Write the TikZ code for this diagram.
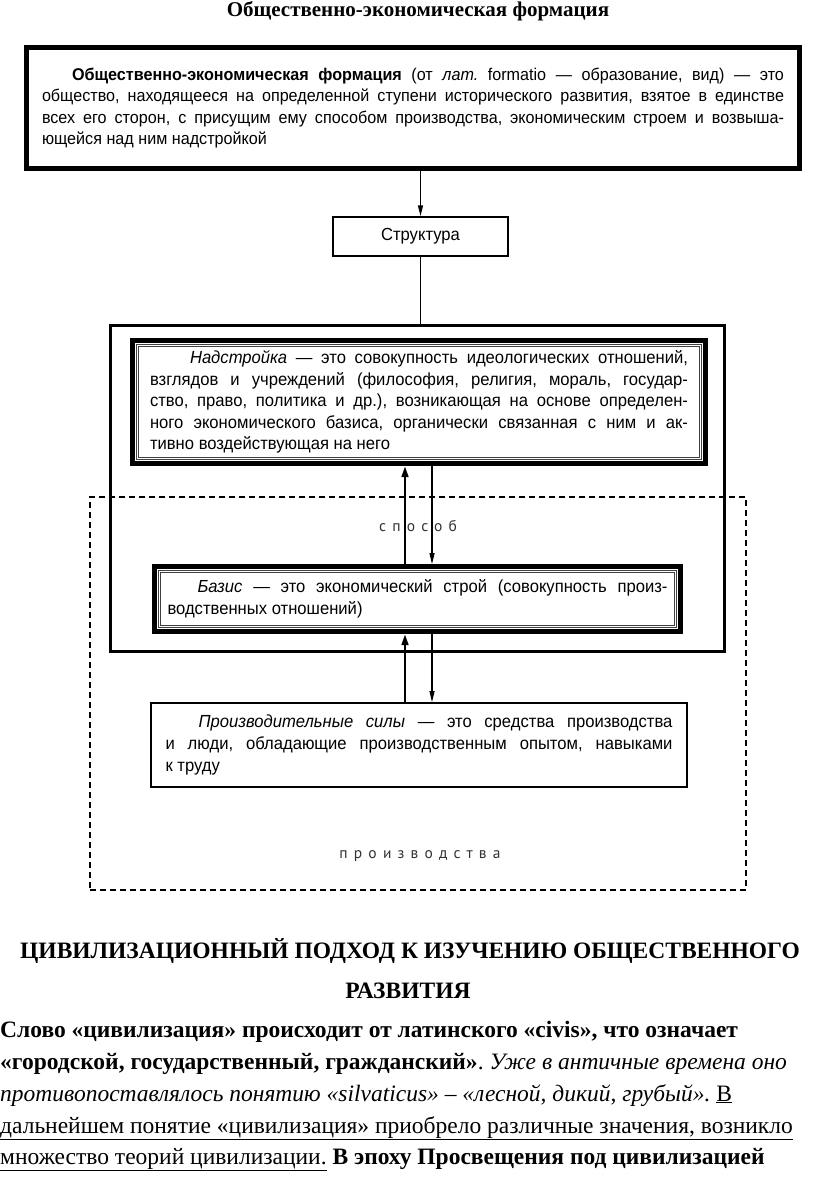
\documentclass[tikz,border=0pt]{standalone}
\usepackage{fontspec}
\setmainfont{Liberation Serif}
\newfontfamily\df[FakeStretch=0.95]{Liberation Sans}
\newfontfamily\dfsp[LetterSpace=40]{PT Sans}
\usetikzlibrary{arrows.meta}
\frenchspacing
\begin{document}
\begin{tikzpicture}[x=1pt,y=-1pt,
  dtext/.style={font=\df\fontsize{17.5}{21.6}\selectfont},
  ttext/.style={font=\df\fontsize{17}{21.2}\selectfont},
  dblframe/.style={draw=black!75, line width=0.5pt, double, double distance=1.4pt},
  heavybox/.style={draw, line width=5pt, fill=white, inner sep=0pt, align=left, dtext},
  thinarrow/.style={line width=1.2pt, -{Triangle[length=11pt,width=5pt]}},
  thickarrow/.style={line width=2.6pt, -{Triangle[length=11pt,width=6.5pt]}},
  spaced/.style={font=\dfsp\fontsize{15.5}{18}\selectfont, text=black!80},
  body/.style={anchor=base west, inner sep=0pt, font=\fontsize{23.5}{27}\selectfont}
]
\fill[white] (0,0) rectangle (816,1189);
\useasboundingbox (0,0) rectangle (816,1189);

% title
\node[font=\bfseries\fontsize{21}{24}\selectfont] (title) at (418,11) {Общественно-экономическая формация};

% top box
\node[heavybox, ttext, minimum width=773pt, minimum height=121pt] (top) at (413,108) {%
\makebox[742pt][s]{\hspace*{30pt}\textbf{Общественно-экономическая формация} (от \textit{лат.} formatio — образование, вид) — это}\\
\makebox[742pt][s]{общество, находящееся на определенной ступени исторического развития, взятое в единстве}\\
\makebox[742pt][s]{всех его сторон, с присущим ему способом производства, экономическим строем и возвыша-}\\
ющейся над ним надстройкой};
\draw[dblframe] ([shift={(8pt,-8pt)}]top.north west) rectangle ([shift={(-8pt,8pt)}]top.south east);

% structure
\node[draw, line width=1.5pt, minimum width=175pt, minimum height=39pt, dtext] (str) at (420.5,236.5) {Структура};

% dashed production box
\node[draw, line width=1.8pt, dash pattern=on 6pt off 4pt, minimum width=656pt, minimum height=393pt] (dash) at (418,693.5) {};

% big structure box
\node[draw, line width=3pt, minimum width=614pt, minimum height=326pt] (big) at (417,488) {};

% superstructure
\node[heavybox, minimum width=573pt, minimum height=123pt] (nad) at (419,402) {%
\makebox[538pt][s]{\hspace*{40pt}\textit{Надстройка} — это совокупность идеологических отношений,}\\
\makebox[538pt][s]{взглядов и учреждений (философия, религия, мораль, государ-}\\
\makebox[538pt][s]{ство, право, политика и др.), возникающая на основе определен-}\\
\makebox[538pt][s]{ного экономического базиса, органически связанная с ним и ак-}\\
тивно воздействующая на него};
\draw[dblframe] ([shift={(7.5pt,-7.5pt)}]nad.north west) rectangle ([shift={(-7.5pt,7.5pt)}]nad.south east);

% basis
\node[heavybox, minimum width=526pt, minimum height=65pt] (baz) at (417.5,599) {%
\makebox[500pt][s]{\hspace*{30pt}\textit{Базис} — это экономический строй (совокупность произ-}\\
водственных отношений)};
\draw[dblframe] ([shift={(7.5pt,-7.5pt)}]baz.north west) rectangle ([shift={(-7.5pt,7.5pt)}]baz.south east);

% productive forces
\node[draw, line width=2pt, fill=white, inner sep=0pt, align=left, dtext, minimum width=536pt, minimum height=84pt] (prod) at (419,745) {%
\makebox[507pt][s]{\hspace*{33pt}\textit{Производительные силы} — это средства производства}\\
\makebox[507pt][s]{и люди, обладающие производственным опытом, навыками}\\
к труду};

% spaced labels
\node[spaced] (sp) at (418,526) {способ};
\node[spaced] (pr) at (420,856) {производства};

% connectors
\coordinate (xa) at (405,0);
\coordinate (xb) at (432,0);
\draw[thinarrow, line width=1.5pt] (top.south -| str.north) -- (str.north);
\draw[line width=1.5pt] (str.south) -- (str.south |- big.north);
\draw[thickarrow] (baz.north -| xa) -- (nad.south -| xa);
\draw[thinarrow] (nad.south -| xb) -- (baz.north -| xb);
\draw[thickarrow] (prod.north -| xa) -- (baz.south -| xa);
\draw[thinarrow] (baz.south -| xb) -- (prod.north -| xb);

% bottom text
\node[font=\bfseries\fontsize{23.5}{27}\selectfont, anchor=base] (h1) at (410,958) {ЦИВИЛИЗАЦИОННЫЙ ПОДХОД К ИЗУЧЕНИЮ ОБЩЕСТВЕННОГО};
\node[font=\bfseries\fontsize{23.5}{27}\selectfont, anchor=base] (h2) at (408,998) {РАЗВИТИЯ};
\node[body] (l1) at (0,1037) {\textbf{Слово «цивилизация» происходит от латинского «civis», что означает}};
\node[body] (l2) at (0,1069) {\textbf{«городской, государственный, гражданский»}. \textit{Уже в античные времена оно}};
\node[body] (l3) at (0,1101) {\textit{противопоставлялось понятию «silvaticus» – «лесной, дикий, грубый».} \underline{В}};
\node[body] (l4) at (0,1133) {\underline{дальнейшем понятие «цивилизация» приобрело различные значения, возникло}};
\node[body] (l5) at (0,1164) {\underline{множество теорий цивилизации.} \textbf{В эпоху Просвещения под цивилизацией}};
\end{tikzpicture}
\end{document}
